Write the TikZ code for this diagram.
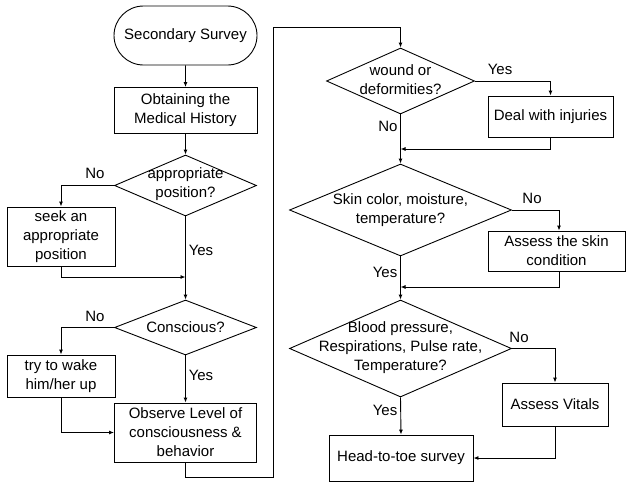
\documentclass[tikz,border=0pt]{standalone}
\usepackage{fontspec}
\setmainfont{Liberation Sans}
\usetikzlibrary{shapes.geometric,shapes.misc,arrows.meta}
\begin{document}
\begin{tikzpicture}[x=1pt,y=-1pt,
  every node/.style={font=\fontsize{15}{19}\selectfont},
  box/.style={draw,line width=0.9pt,rectangle,inner sep=0pt,align=center},
  term/.style={draw,line width=0.9pt,rounded rectangle,inner sep=0pt,align=center},
  dec/.style={draw,line width=0.9pt,diamond,inner sep=0pt},
  txt/.style={align=center,inner sep=0pt},
  lbl/.style={inner sep=0pt},
  conn/.style={line width=0.9pt,-{Latex[length=5pt,width=4pt]}},
  plain/.style={line width=0.9pt}]
\useasboundingbox (0,0) rectangle (626,485);
% left column
\node[term,minimum width=143pt,minimum height=59pt] (start) at (185.5,35.5) {Secondary Survey};
\node[box,minimum width=143pt,minimum height=46pt] (hist) at (185.5,110.5) {Obtaining the\\Medical History};
\node[dec,minimum width=142pt,minimum height=61pt] (d1) at (185.5,185.5) {};
\node[txt] (d1t) at (185.5,184.5) {appropriate\\position?};
\node[box,minimum width=108pt,minimum height=59pt] (seek) at (61,236.5) {seek an\\appropriate\\position};
\node[dec,minimum width=142pt,minimum height=55pt] (d2) at (185.5,327.5) {};
\node[txt] (d2t) at (185.5,327.5) {Conscious?};
\node[box,minimum width=108pt,minimum height=42pt] (wake) at (61,376) {try to wake\\him/her up};
\node[box,minimum width=142pt,minimum height=59pt] (obs) at (185.5,432.5) {Observe Level of\\consciousness \&\\behavior};
% right column
\node[dec,minimum width=148pt,minimum height=66pt] (d3) at (400.5,81) {};
\node[txt] (d3t) at (400.5,80) {wound or\\deformities?};
\node[box,minimum width=125pt,minimum height=41pt] (inj) at (550.5,116.5) {Deal with injuries};
\node[dec,minimum width=222pt,minimum height=92pt] (d4) at (400.5,210) {};
\node[txt] (d4t) at (400.5,210) {Skin color, moisture,\\temperature?};
\node[box,minimum width=137pt,minimum height=40pt] (skin) at (556.5,251) {Assess the skin\\condition};
\node[dec,minimum width=222pt,minimum height=97pt] (d5) at (400.5,348.5) {};
\node[txt] (d5t) at (400.5,348) {Blood pressure,\\Respirations, Pulse rate,\\Temperature?};
\node[box,minimum width=106pt,minimum height=43pt] (vit) at (555,404.5) {Assess Vitals};
\node[box,minimum width=144pt,minimum height=46pt] (head) at (401,458) {Head-to-toe survey};
% helper coordinates
\coordinate (j1) at (185.5,277);
\coordinate (c1) at (273,477);
\coordinate (c2) at (273,27);
\coordinate (j2) at (400.5,149);
\coordinate (j3) at (400.5,287);
% connectors
\draw[conn] (start) -- (hist);
\draw[conn] (hist) -- (d1.north);
\draw[conn] (d1.west) -| (seek.north);
\draw[conn] (d1.south) -- (d2.north);
\draw[conn] (seek.south) |- (j1);
\draw[conn] (d2.west) -| (wake.north);
\draw[conn] (d2.south) -- (obs.north);
\draw[conn] (wake.south) |- (obs.west);
\draw[conn] (obs.south) |- (c1) -- (c2) -| (d3.north);
\draw[conn] (d3.east) -| (inj.north);
\draw[conn] (d3.south) -- (d4.north);
\draw[conn] (inj.south) |- (j2);
\draw[conn] (d4.east) -| ([xshift=2.5pt]skin.north);
\draw[conn] (d4.south) -- (d5.north);
\draw[conn] ([xshift=2.5pt]skin.south) |- (j3);
\draw[conn] (d5.east) -| (vit.north);
\draw[conn] (d5.south) -- (head.north);
\draw[conn] (vit.south) |- (head.east);
% labels
\node[lbl] (l1) at (95,173) {No};
\node[lbl] (l2) at (201,250) {Yes};
\node[lbl] (l3) at (95,316) {No};
\node[lbl] (l4) at (201,375) {Yes};
\node[lbl] (l5) at (500,69) {Yes};
\node[lbl] (l6) at (388,126) {No};
\node[lbl] (l7) at (532,198) {No};
\node[lbl] (l8) at (385,272) {Yes};
\node[lbl] (l9) at (519,337) {No};
\node[lbl] (l10) at (385,410) {Yes};
\end{tikzpicture}
\end{document}
